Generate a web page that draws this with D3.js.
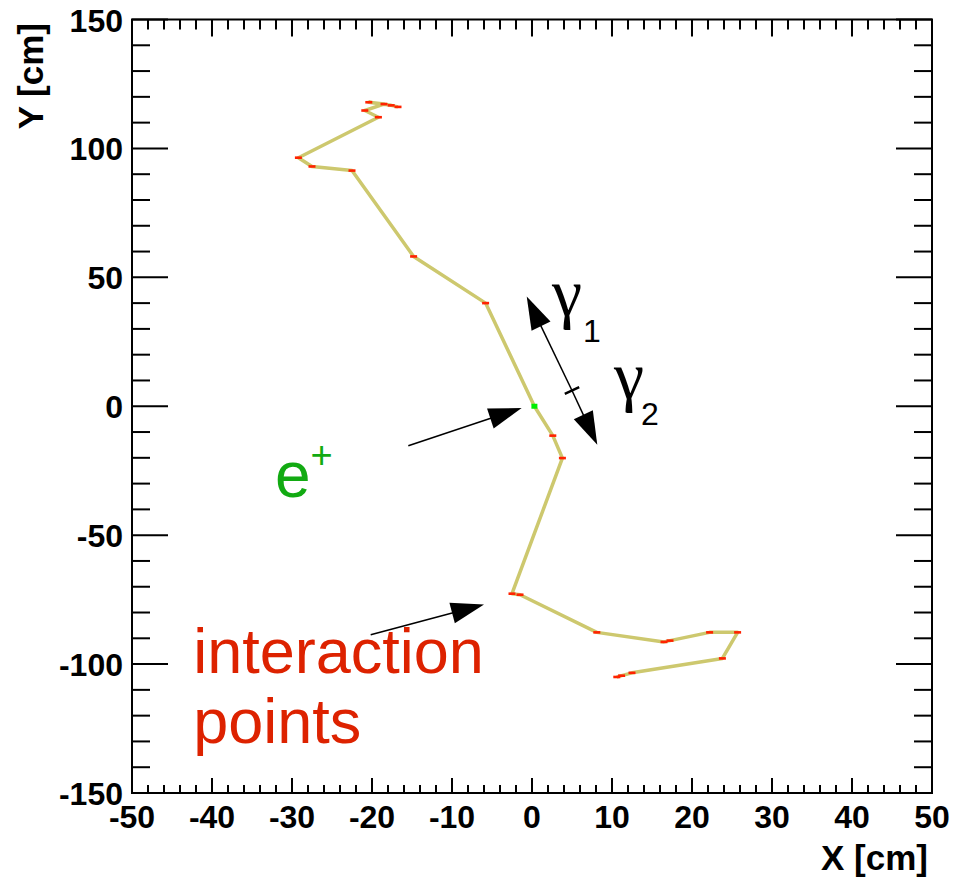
<!DOCTYPE html>
<html>
<head>
<meta charset="utf-8">
<script src="https://cdn.jsdelivr.net/npm/d3@7"></script>
<style>
  html, body { margin: 0; padding: 0; background: #fff; }
  svg { display: block; }
</style>
</head>
<body>
<svg id="chart" width="955" height="881"></svg>
<script>
// ---- data (cm) ----
const xDomain = [-50, 50];
const yDomain = [-150, 150];
const xMajorTicks = [-50, -40, -30, -20, -10, 0, 10, 20, 30, 40, 50];
const yMajorTicks = [-150, -100, -50, 0, 50, 100, 150];
const xTickLabels = ["-50", "-40", "-30", "-20", "-10", "0", "10", "20", "30", "40", "50"];
const yTickLabels = ["-150", "-100", "-50", "0", "50", "100", "150"];

// positron annihilation vertex
const positron = [0.3, 0];

// gamma 1 track (going up), x / y in cm
const gamma1X = [0.3, -5.8, -14.8, -22.5, -27.5, -29.2, -19.2, -20.9, -18.5, -20.4, -17.6, -16.75];
const gamma1Y = [0.0, 40.0, 58.1, 91.4, 93.0, 96.4, 112.1, 114.7, 117.2, 117.9, 116.7, 116.1];

// gamma 2 track (going down)
const gamma2X = [0.3, 2.6, 3.8, -2.5, -1.5, 8.1, 16.5, 17.25, 22.2, 25.7, 23.8, 12.5, 11.2, 10.6];
const gamma2Y = [0.0, -11.4, -20.1, -72.7, -73.1, -87.7, -91.4, -90.9, -87.7, -87.7, -97.8, -103.4, -104.5, -105.0];

// annotation arrows [x1, y1, x2(tip), y2(tip)] in cm
const arrowGamma1 = [5.0, 6.1, -0.66, 42.6];
const arrowGamma2 = [5.0, 6.1, 8.16, -14.9];
const arrowPositron = [-15.46, -15.3, -1.29, -0.7];
const arrowInteraction = [-20.16, -88.6, -6.0, -76.9];

// ---- layout ----
const svg = d3.select("#chart");
const x = d3.scaleLinear().domain(xDomain).range([132, 932]);
const y = d3.scaleLinear().domain(yDomain).range([793, 19.5]);

const trackColor = "#cdc86e";
const ipColor = "#ff2200";

// frame
svg.append("rect")
  .attr("x", x(-50)).attr("y", y(150))
  .attr("width", x(50) - x(-50)).attr("height", y(-150) - y(150))
  .attr("fill", "none").attr("stroke", "#000").attr("stroke-width", 2);

// ticks
const xMinor = d3.range(-50, 50.001, 2);
const yMinor = d3.range(-150, 150.001, 10);
const tickG = svg.append("g").attr("stroke", "#000").attr("stroke-width", 2);
xMinor.forEach(v => {
  const major = xMajorTicks.includes(Math.round(v));
  const lb = major ? 15 : 8, lt = major ? 17 : 10;
  tickG.append("line").attr("x1", x(v)).attr("x2", x(v)).attr("y1", y(-150)).attr("y2", y(-150) - lb);
  tickG.append("line").attr("x1", x(v)).attr("x2", x(v)).attr("y1", y(150)).attr("y2", y(150) + lt);
});
yMinor.forEach(v => {
  const major = yMajorTicks.includes(Math.round(v));
  const l = major ? 36 : 18;
  tickG.append("line").attr("x1", x(-50)).attr("x2", x(-50) + l).attr("y1", y(v)).attr("y2", y(v));
  tickG.append("line").attr("x1", x(50)).attr("x2", x(50) - l).attr("y1", y(v)).attr("y2", y(v));
});

// tick labels
const labFont = "'Liberation Sans', Arial, Helvetica, sans-serif";
svg.append("g").selectAll("text").data(xMajorTicks).join("text")
  .attr("x", d => x(d)).attr("y", 828)
  .attr("text-anchor", "middle")
  .attr("font-family", labFont).attr("font-weight", "bold").attr("font-size", 32)
  .text((d, i) => xTickLabels[i]);
svg.append("g").selectAll("text").data(yMajorTicks).join("text")
  .attr("x", 123).attr("y", d => y(d) + 12)
  .attr("text-anchor", "end")
  .attr("font-family", labFont).attr("font-weight", "bold").attr("font-size", 32)
  .text((d, i) => yTickLabels[i]);

// axis titles
svg.append("text")
  .attr("x", 928).attr("y", 870).attr("text-anchor", "end")
  .attr("font-family", labFont).attr("font-weight", "bold").attr("font-size", 35)
  .text("X [cm]");
svg.append("text")
  .attr("transform", "translate(43,23) rotate(-90)")
  .attr("text-anchor", "end")
  .attr("font-family", labFont).attr("font-weight", "bold").attr("font-size", 35)
  .text("Y [cm]");

// tracks
const line = d3.line().x(d => x(d[0])).y(d => y(d[1]));
const tracks = [
  gamma1X.map((v, i) => [v, gamma1Y[i]]),
  gamma2X.map((v, i) => [v, gamma2Y[i]])
];
svg.append("g").selectAll("path").data(tracks).join("path")
  .attr("d", line)
  .attr("fill", "none").attr("stroke", trackColor).attr("stroke-width", 3.5)
  .attr("stroke-linejoin", "round");

// interaction points (red dashes)
const ips = tracks.flatMap(t => t.slice(1));
svg.append("g").selectAll("rect").data(ips).join("rect")
  .attr("x", d => x(d[0]) - 3.5).attr("y", d => y(d[1]) - 1.3)
  .attr("width", 7).attr("height", 2.6)
  .attr("fill", ipColor);

// positron point
svg.append("rect")
  .attr("x", x(positron[0]) - 3).attr("y", y(positron[1]) - 2.5)
  .attr("width", 6).attr("height", 5).attr("fill", "#00ee00");

// arrows
function arrow(a, withShaft = true) {
  const x1 = x(a[0]), y1 = y(a[1]), x2 = x(a[2]), y2 = y(a[3]);
  const dx = x2 - x1, dy = y2 - y1, L = Math.hypot(dx, dy);
  const ux = dx / L, uy = dy / L, px = -uy, py = ux;
  const hl = 33, hw = 10.5;
  const bx = x2 - ux * hl, by = y2 - uy * hl;
  if (withShaft) {
    svg.append("line").attr("x1", x1).attr("y1", y1).attr("x2", bx + ux * 2).attr("y2", by + uy * 2)
      .attr("stroke", "#000").attr("stroke-width", 1.5);
  }
  svg.append("polygon")
    .attr("points", [[x2, y2], [bx + px * hw, by + py * hw], [bx - px * hw, by - py * hw]].map(p => p.join(",")).join(" "))
    .attr("fill", "#000");
}
arrow(arrowGamma1);
arrow(arrowGamma2);
arrow(arrowPositron);
arrow(arrowInteraction);

// small cross tick on gamma arrow at the split point
{
  const cx = x(arrowGamma1[0]), cy = y(arrowGamma1[1]);
  const dx = x(arrowGamma1[2]) - cx, dy = y(arrowGamma1[3]) - cy, L = Math.hypot(dx, dy);
  const px = -dy / L, py = dx / L;
  svg.append("line")
    .attr("x1", cx - px * 8).attr("y1", cy - py * 8)
    .attr("x2", cx + px * 8).attr("y2", cy + py * 8)
    .attr("stroke", "#000").attr("stroke-width", 2.5);
}

// gamma labels
const serif = "'Liberation Serif', 'Times New Roman', serif";
function gammaLabel(gx, gy, sub, sx, sy) {
  svg.append("text").attr("x", gx).attr("y", gy)
    .attr("font-family", serif).attr("font-size", 68).text("γ");
  svg.append("text").attr("x", sx).attr("y", sy)
    .attr("font-family", labFont).attr("font-size", 32).text(sub);
}
gammaLabel(552, 316, "1", 583, 342);
gammaLabel(614, 399, "2", 641, 425);

// e+ label
const ePos = [-31.75, -35.1];
const eText = svg.append("text").attr("x", x(ePos[0]) - 3).attr("y", y(ePos[1]))
  .attr("font-family", labFont).attr("font-size", 64).attr("fill", "#12aa12");
eText.append("tspan").text("e");
eText.append("tspan").attr("font-size", 38).attr("dy", -29).text("+");

// interaction points label
const ipLabel = [-42.1, -103.3];
const ipText = svg.append("text").attr("x", x(ipLabel[0]) - 2).attr("y", y(ipLabel[1]))
  .attr("font-family", labFont).attr("font-size", 63).attr("fill", "#dd2200");
ipText.append("tspan").attr("x", x(ipLabel[0]) - 2).text("interaction");
ipText.append("tspan").attr("x", x(ipLabel[0]) - 2).attr("dy", 70).text("points");
</script>
</body>
</html>
